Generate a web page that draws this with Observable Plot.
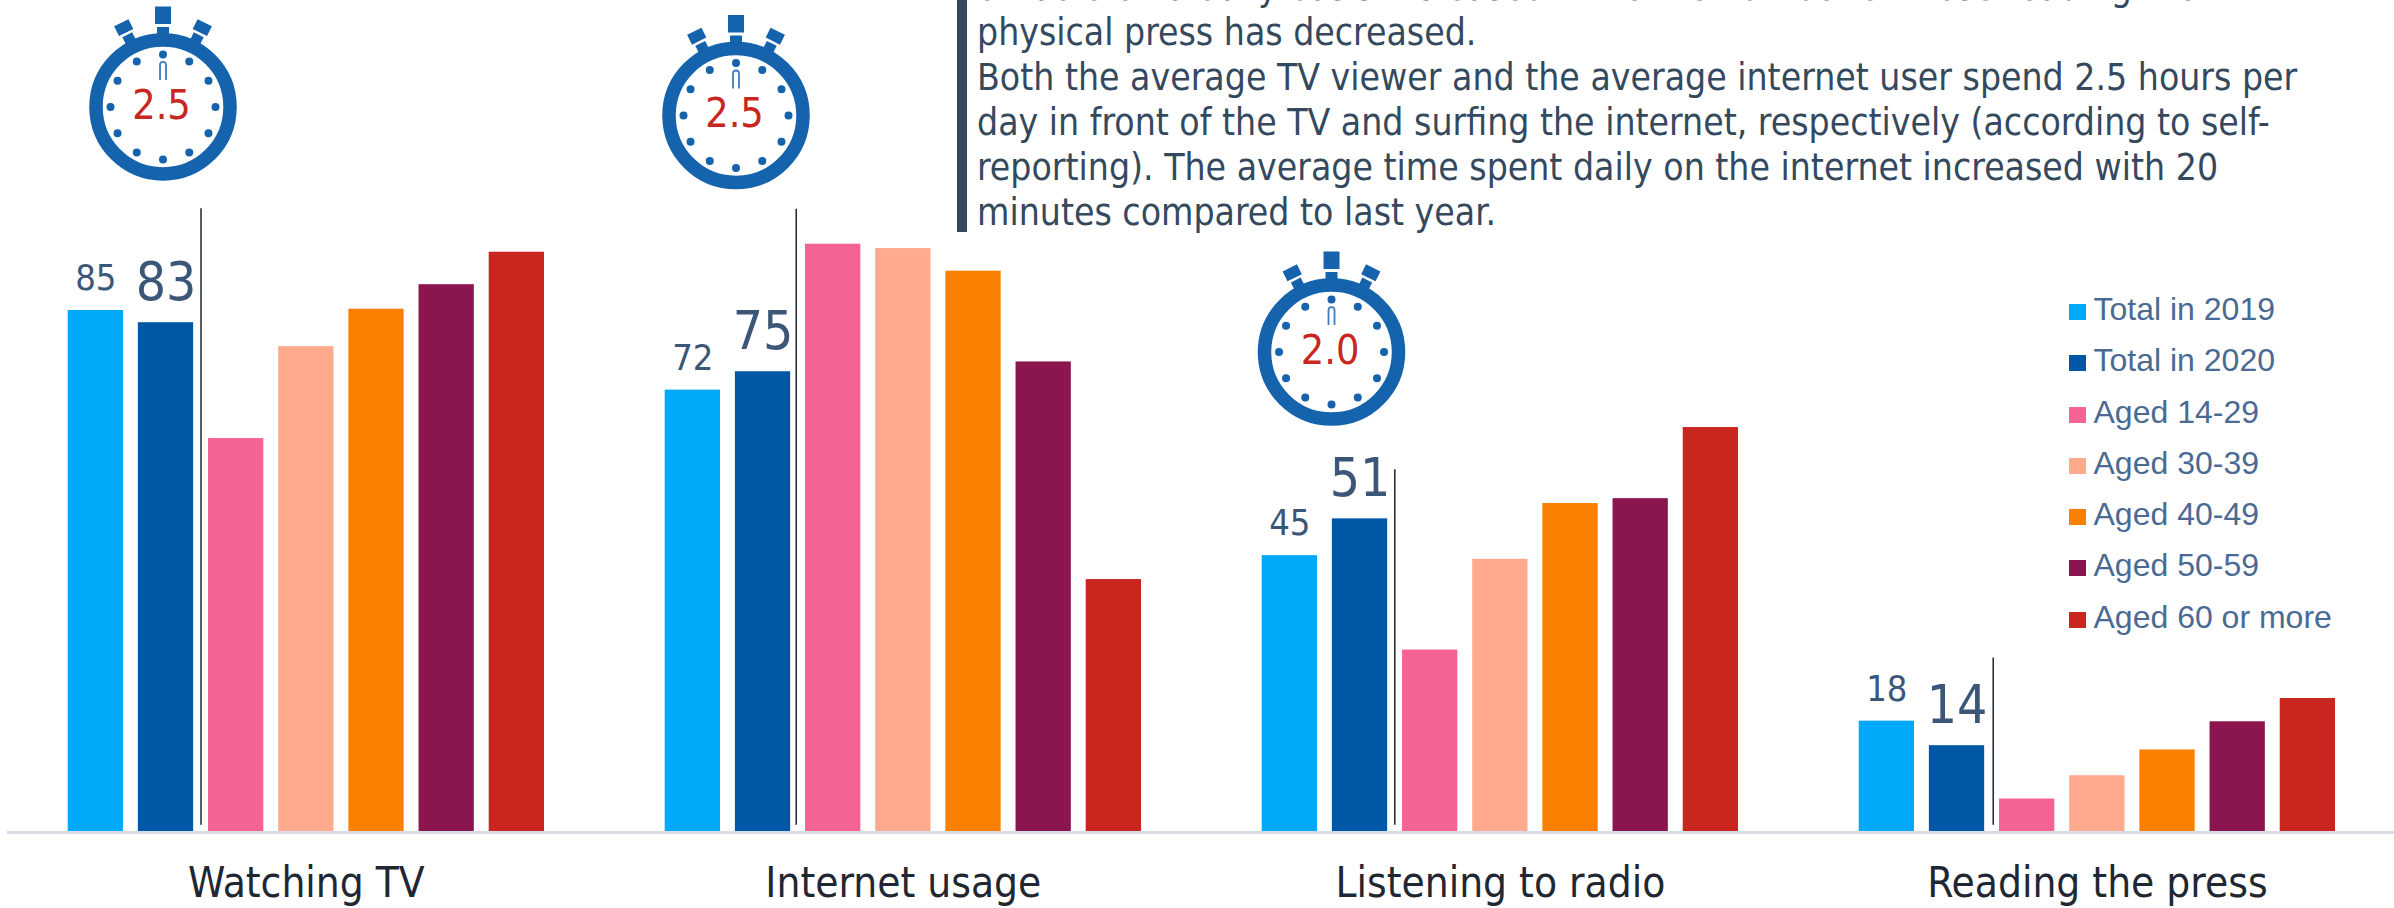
<!DOCTYPE html>
<html>
<head>
<meta charset="utf-8">
<script src="https://cdn.jsdelivr.net/npm/d3@7"></script>
<script src="https://cdn.jsdelivr.net/npm/@observablehq/plot@0.6"></script>
<style>
  html, body { margin: 0; padding: 0; background: #fff; overflow: hidden; }
  #stage { position: relative; width: 2394px; height: 908px; overflow: hidden; }
  #note {
    position: absolute; left: 957px; top: -35px; height: 267px; width: 1430px;
    border-left: 10px solid #34495e; padding-left: 10px; box-sizing: border-box;
    color: #34495e; font: 37px/45px "DejaVu Sans Condensed", "DejaVu Sans", sans-serif; white-space: nowrap;
  }
  #legend { position: absolute; left: 2069px; top: 292px; font: 32px "Liberation Sans", Arial, sans-serif; color: #4a6a94; }
  #legend div { height: 51.3px; line-height: 34px; white-space: nowrap; }
  #legend i { display: inline-block; width: 17px; height: 16px; margin-right: 7.5px; }
</style>
</head>
<body>
<div id="stage">
  <div id="note"></div>
  <div id="legend"></div>
</div>
<script>
// Media use by activity: totals for two years and a breakdown by age group (%).
const categories = ["Watching TV", "Internet usage", "Listening to radio", "Reading the press"];
const series = ["Total in 2019", "Total in 2020", "Aged 14-29", "Aged 30-39", "Aged 40-49", "Aged 50-59", "Aged 60 or more"];
const colors = ["#00a9f9", "#0057a6", "#f56294", "#ffa98f", "#fb7f00", "#8b154f", "#c8261f"];

const total2019 = [85, 72, 45, 18];
const total2020 = [83, 75, 51, 14];
const aged14to29 = [64.1, 95.8, 29.6, 5.3];
const aged30to39 = [79.1, 95.1, 44.4, 9.1];
const aged40to49 = [85.2, 91.4, 53.5, 13.3];
const aged50to59 = [89.2, 76.6, 54.3, 17.9];
const aged60plus = [94.5, 41.1, 65.9, 21.7];
const columns = [total2019, total2020, aged14to29, aged30to39, aged40to49, aged50to59, aged60plus];

// Daily hours shown in the stopwatches; the press panel has none.
const dailyHours = ["2.5", "2.5", "2.0"];

const noteLines = [
  "of radio on a daily basis increased while the number of those reading the",
  "physical press has decreased.",
  "Both the average TV viewer and the average internet user spend 2.5 hours per",
  "day in front of the TV and surfing the internet, respectively (according to self-",
  "reporting). The average time spent daily on the internet increased with 20",
  "minutes compared to last year."
];

const rows = categories.flatMap((category, i) =>
  series.map((name, j) => ({category, name, value: columns[j][i]}))
);
const totals2019 = categories.map((category, i) => ({category, name: series[0], value: total2019[i]}));
const totals2020 = categories.map((category, i) => ({category, name: series[1], value: total2020[i]}));

// Divider beside the 2020 bar: height in axis units and shift from the bar's centre.
const dividerTops = [101.6, 101.5, 59, 28.3];
const dividerShifts = [35, 33.2, 34.8, 36.2];

// Stopwatch placement in axis units plus a horizontal shift from the 2020 bar.
const watchPlacement = [{y: 118.2, dx: -3}, {y: 116.8, dx: -27}, {y: 78.2, dx: -28.5}];
const watches = dailyHours.map((hours, i) => ({category: categories[i], name: series[1], hours, ...watchPlacement[i]}));

const watchBlue = "#1562ad";
const labelFont = "'DejaVu Sans Condensed', 'DejaVu Sans', sans-serif";

// Symbols are drawn in units of the dot radius (73.5 = outer edge of the case).
function unit(size) { return Math.sqrt(size / Math.PI) / 73.5; }

function box(ctx, angle, x0, x1, y0, y1, k) {
  const c = Math.cos(angle), s = Math.sin(angle);
  const p = (x, y) => [(x * c - y * s) * k, (x * s + y * c) * k];
  ctx.moveTo(...p(x0, y0));
  ctx.lineTo(...p(x1, y0));
  ctx.lineTo(...p(x1, y1));
  ctx.lineTo(...p(x0, y1));
  ctx.closePath();
}

const crownSymbol = {
  draw(ctx, size) {
    const k = unit(size);
    box(ctx, 0, -8, 8, -100.5, -83, k);
    box(ctx, 0, -6, 6, -80, -73, k);
    for (const angle of [-0.46, 0.46]) {
      box(ctx, angle, -8, 8, -94, -83, k);
      box(ctx, angle, -5.5, 5.5, -80.5, -72, k);
    }
  }
};

const hourDotsSymbol = {
  draw(ctx, size) {
    const k = unit(size);
    for (let h = 0; h < 12; ++h) {
      const a = h * Math.PI / 6;
      const x = Math.sin(a) * 52.5 * k, y = -Math.cos(a) * 52.5 * k;
      ctx.moveTo(x + 4 * k, y);
      ctx.arc(x, y, 4 * k, 0, 2 * Math.PI);
    }
  }
};

const handSymbol = {
  draw(ctx, size) {
    const k = unit(size);
    ctx.moveTo(-3 * k, -27 * k);
    ctx.lineTo(-3 * k, -42 * k);
    ctx.arc(0, -42 * k, 3 * k, Math.PI, 0);
    ctx.lineTo(3 * k, -27 * k);
  }
};

function watchMarks(w) {
  const at = {fx: "category", x: "name", y: "y", dx: w.dx};
  return [
    Plot.dot([w], {...at, r: 67, stroke: watchBlue, strokeWidth: 13.5, fill: "white"}),
    Plot.dot([w], {...at, r: 73.5, symbol: crownSymbol, fill: watchBlue, stroke: "none"}),
    Plot.dot([w], {...at, r: 73.5, symbol: hourDotsSymbol, fill: watchBlue, stroke: "none"}),
    Plot.dot([w], {...at, r: 73.5, symbol: handSymbol, fill: "none", stroke: "#3d7dbd", strokeWidth: 1.8}),
    Plot.text([w], {
      fx: "category", x: "name", y: "y", dx: w.dx - 1.5, dy: -1.5, text: "hours",
      fontSize: 41, fill: "#c8261f", fontFamily: labelFont
    })
  ];
}

function dividerMark(category, i) {
  return Plot.ruleX([{category, top: dividerTops[i]}], {
    fx: "category", x: () => series[1], y1: () => 1, y2: "top",
    dx: dividerShifts[i], stroke: "#1b2430", strokeWidth: 1.5
  });
}

const chart = Plot.plot({
  width: 2394,
  height: 908,
  marginTop: 0,
  marginBottom: 77,
  marginLeft: 67.7,
  marginRight: 59,
  style: {background: "transparent", overflow: "visible"},
  fx: {domain: categories, paddingInner: 0.2022, paddingOuter: 0, round: false, label: null, axis: null},
  x: {domain: series, paddingInner: 0.2122, paddingOuter: 0, round: false, axis: null},
  y: {domain: [0, 135.56], axis: null},
  color: {domain: series, range: colors},
  marks: [
    Plot.barY(rows, {fx: "category", x: "name", y: "value", fill: "name"}),
    Plot.ruleY(categories, {fx: d => d, y: () => 0, dy: 1, stroke: "#d6dde8", strokeWidth: 3, insetLeft: -60.7, insetRight: -60.4}),
    ...categories.map(dividerMark),
    Plot.text(totals2019, {
      fx: "category", x: "name", y: "value", text: "value", dy: -32,
      fontSize: 36, fill: "#3c5678", fontFamily: labelFont
    }),
    Plot.text(totals2020, {
      fx: "category", x: "name", y: "value", text: "value", dy: -40,
      fontSize: 53, fill: "#3c5678", fontFamily: labelFont
    }),
    Plot.axisFx({
      anchor: "bottom", tickSize: 0, tickPadding: 36, label: null,
      fontSize: 42, fill: "#1f2733", fontFamily: labelFont
    }),
    ...watches.flatMap(watchMarks)
  ]
});

const stage = document.getElementById("stage");
stage.insertBefore(chart, stage.firstChild);
chart.style.position = "absolute";
chart.style.left = "0";
chart.style.top = "0";

document.getElementById("note").innerHTML = noteLines.map(line => `<div>${line}</div>`).join("");
document.getElementById("legend").innerHTML = series
  .map((name, i) => `<div><i style="background:${colors[i]}"></i>${name}</div>`)
  .join("");
</script>
</body>
</html>
